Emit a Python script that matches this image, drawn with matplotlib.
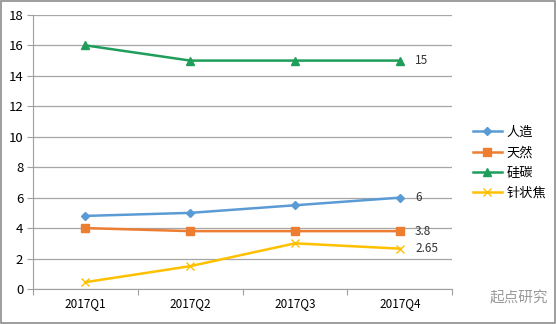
import matplotlib.pyplot as plt
from matplotlib.patches import Rectangle

plt.rcParams['font.family'] = ['Noto Sans CJK SC', 'DejaVu Sans']
plt.rcParams['axes.unicode_minus'] = False

quarters = ['2017Q1', '2017Q2', '2017Q3', '2017Q4']
rengzao = [4.8, 5.0, 5.5, 6.0]
tianran = [4.0, 3.8, 3.8, 3.8]
guitan = [16, 15, 15, 15]
zhenzhuangjiao = [0.45, 1.5, 3.0, 2.65]

names = ['人造', '天然', '硅碳', '针状焦']
colors = ['#5B9BD5', '#ED7D31', '#1E9E5A', '#FFC000']
markers = ['D', 's', '^', 'x']
msizes = [4, 6, 6, 6]
series = [rengzao, tianran, guitan, zhenzhuangjiao]
end_labels = ['6', '3.8', '15', '2.65']

fig = plt.figure(figsize=(5.56, 3.24), dpi=100)
ax = fig.add_axes([0.0594, 0.108, 0.754, 0.846])

xs = [i + 0.5 for i in range(len(quarters))]
for vals, name, c, m, ms, lab in zip(series, names, colors, markers, msizes, end_labels):
    ax.plot(xs, vals, color=c, marker=m, markersize=ms, linewidth=1.8,
            markeredgewidth=1.0, label=name, zorder=3)
    ax.annotate(lab, (xs[-1], vals[-1]), xytext=(11, 0), textcoords='offset points',
                va='center', ha='left', fontsize=8.5, color='#333333')

ax.set_xlim(0, 4)
ax.set_ylim(0, 18)
ax.set_yticks(range(0, 19, 2))
ax.set_xticks(range(0, 5))
ax.set_xticklabels([])
ax.set_xticks(xs, minor=True)
ax.set_xticklabels(quarters, minor=True)
ax.tick_params(axis='x', which='minor', length=0, pad=6, labelsize=8.5)
ax.tick_params(axis='x', which='major', length=4, color='#a0a0a0')
ax.tick_params(axis='y', length=4, color='#a0a0a0', labelsize=9.5, pad=3)
ax.grid(axis='y', color='#a6a6a6', linewidth=0.9)
ax.set_axisbelow(True)
for s in ['top', 'right']:
    ax.spines[s].set_visible(False)
for s in ['left', 'bottom']:
    ax.spines[s].set_color('#a0a0a0')

ax.legend(loc='center left', bbox_to_anchor=(1.02, 0.46), frameon=False,
          fontsize=9.5, handlelength=2.2, labelspacing=0.55, handletextpad=0.4)

fig.text(0.88, 0.08, '起点研究', fontsize=10.5, color='#9a9a9a', ha='left', va='center')
fig.patches.append(Rectangle((0.002, 0.003), 0.996, 0.994, transform=fig.transFigure,
                             fill=False, edgecolor='#8c8c8c', linewidth=1.2))

fig.savefig('out.png', dpi=100)
